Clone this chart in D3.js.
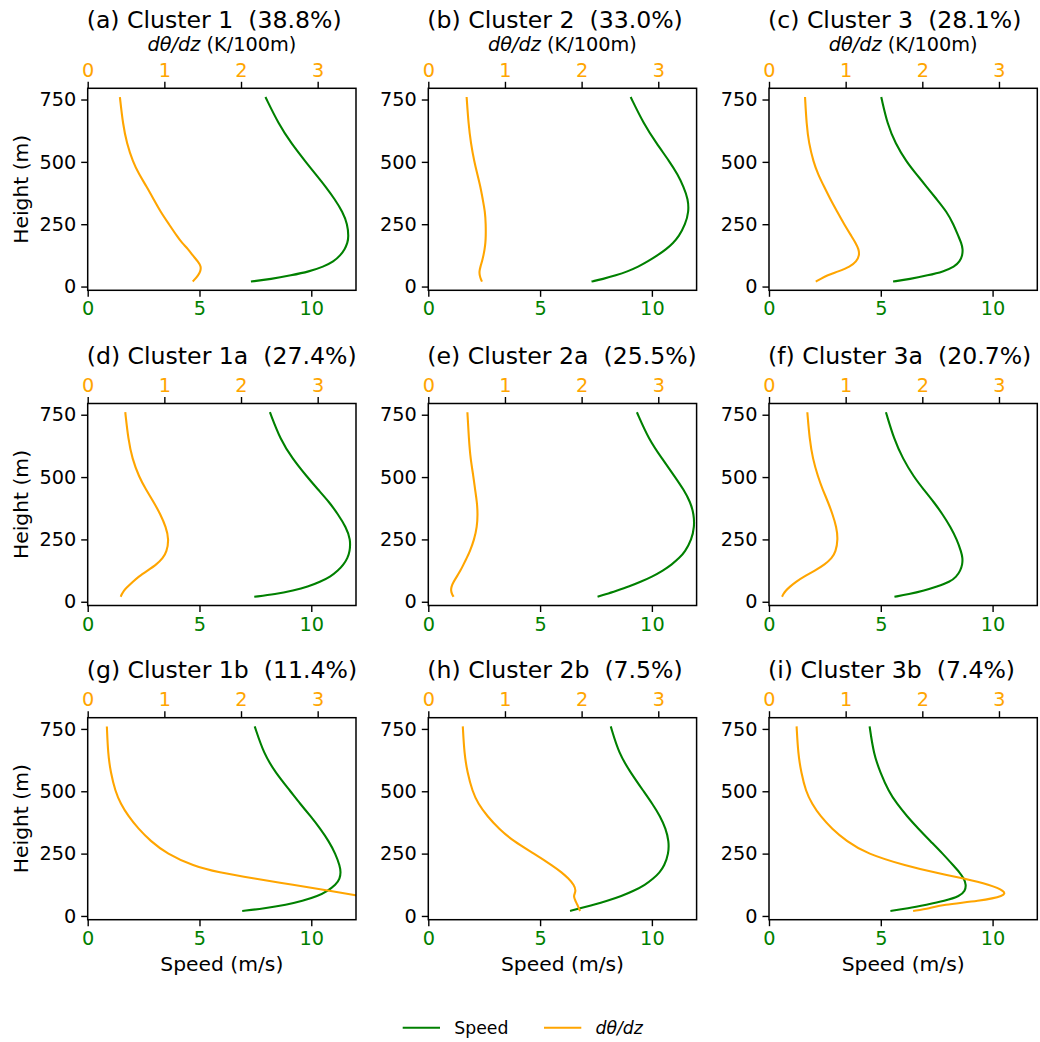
<!DOCTYPE html>
<html><head><meta charset="utf-8">
<script src="https://cdn.jsdelivr.net/npm/d3@7"></script>
<style>
body{margin:0;background:#fff;}
svg{display:block;font-family:"DejaVu Sans",sans-serif;}
text{white-space:pre;}
</style>
</head><body>
<svg id="chart" width="1040" height="1042"></svg>
<script>
// ---------------- data ----------------
const heights = [20,30,45,60,80,100,125,150,175,200,250,300,350,400,450,500,575,650,760];

const titles = ["(a) Cluster 1  (38.8%)","(b) Cluster 2  (33.0%)","(c) Cluster 3  (28.1%)",
                "(d) Cluster 1a  (27.4%)","(e) Cluster 2a  (25.5%)","(f) Cluster 3a  (20.7%)",
                "(g) Cluster 1b  (11.4%)","(h) Cluster 2b  (7.5%)","(i) Cluster 3b  (7.4%)"];

const speedA = [7.3,8.2,9.1,9.9,10.55,11.0,11.3,11.5,11.62,11.67,11.62,11.4,11.05,10.65,10.2,9.75,9.1,8.55,7.95];
const thetaA = [1.37,1.40,1.44,1.47,1.48,1.44,1.37,1.31,1.23,1.17,1.06,0.95,0.86,0.77,0.67,0.59,0.51,0.46,0.42];
const speedB = [7.3,7.8,8.4,8.9,9.4,9.8,10.25,10.65,10.95,11.2,11.5,11.65,11.62,11.42,11.15,10.8,10.2,9.65,9.05];
const thetaB = [0.70,0.685,0.67,0.665,0.68,0.70,0.72,0.735,0.745,0.75,0.75,0.74,0.71,0.68,0.64,0.60,0.555,0.525,0.50];
const speedC = [5.55,6.3,7.1,7.8,8.3,8.53,8.65,8.67,8.6,8.48,8.25,7.95,7.5,7.05,6.6,6.15,5.65,5.3,5.02];
const thetaC = [0.61,0.67,0.76,0.90,1.06,1.14,1.18,1.17,1.13,1.08,0.98,0.89,0.80,0.72,0.64,0.58,0.52,0.49,0.47];
const speedD = [7.45,8.4,9.2,9.85,10.4,10.85,11.2,11.45,11.62,11.72,11.76,11.55,11.2,10.8,10.3,9.82,9.15,8.62,8.15];
const thetaD = [0.43,0.445,0.47,0.52,0.59,0.66,0.78,0.90,0.98,1.03,1.06,1.02,0.95,0.86,0.76,0.67,0.58,0.53,0.49];
const speedE = [7.57,7.95,8.45,8.95,9.5,10.0,10.5,10.9,11.22,11.48,11.78,11.9,11.88,11.72,11.42,11.04,10.45,9.87,9.33];
const thetaE = [0.33,0.31,0.295,0.30,0.33,0.37,0.42,0.46,0.50,0.54,0.60,0.635,0.645,0.635,0.61,0.59,0.55,0.53,0.51];
const speedF = [5.61,6.25,6.95,7.5,8.1,8.38,8.56,8.65,8.66,8.6,8.4,8.12,7.77,7.37,6.92,6.48,5.98,5.6,5.23];
const thetaF = [0.17,0.185,0.22,0.27,0.35,0.45,0.60,0.73,0.82,0.87,0.90,0.88,0.83,0.77,0.70,0.64,0.57,0.53,0.50];
const speedG = [6.91,7.9,8.9,9.6,10.3,10.72,11.1,11.28,11.32,11.28,11.08,10.78,10.4,9.97,9.5,9.07,8.4,7.88,7.47];
const thetaG = [4.3,4.25,4.15,3.95,3.55,3.17,2.68,2.17,1.70,1.38,1.03,0.82,0.66,0.53,0.43,0.36,0.30,0.265,0.25];
const speedH = [6.34,6.75,7.4,7.99,8.65,9.18,9.7,10.07,10.35,10.55,10.75,10.76,10.62,10.37,10.02,9.63,9.05,8.53,8.16];
const thetaH = [1.98,1.965,1.945,1.92,1.89,1.93,1.9,1.83,1.74,1.63,1.38,1.11,0.92,0.77,0.65,0.575,0.51,0.47,0.45];
const speedI = [5.43,6.2,7.05,7.85,8.55,8.77,8.82,8.72,8.52,8.27,7.77,7.22,6.68,6.17,5.72,5.35,4.98,4.68,4.50];
const thetaI = [1.88,2.1,2.25,2.75,3.08,3.08,2.88,2.55,2.15,1.80,1.27,1.01,0.82,0.67,0.56,0.48,0.42,0.38,0.36];

const speedTicks = [0,5,10];
const thetaTicks = [0,1,2,3];
const heightTicks = [0,250,500,750];

const speeds = [speedA,speedB,speedC,speedD,speedE,speedF,speedG,speedH,speedI];
const thetas = [thetaA,thetaB,thetaC,thetaD,thetaE,thetaF,thetaG,thetaH,thetaI];

// ---------------- layout ----------------
const colLeft = [87.7, 428.3, 769.0];
const rowTop = [88.3, 403.5, 717.7];
const W = 268.3, H = 202;
const GREEN = "#008000", ORANGE = "#FFA500";
const TICKFS = 19.3, LABFS = 20.3, TITLEFS = 23.6;
const fmt = d3.format("d");

const svg = d3.select("#chart");
svg.append("rect").attr("width",1040).attr("height",1042).attr("fill","#fff");
const defs = svg.append("defs");

titles.forEach((t, i) => {
  const r = Math.floor(i/3), c = i%3;
  const x0 = colLeft[c], y0 = rowTop[r];
  const g = svg.append("g").attr("transform", `translate(${x0},${y0})`);

  const x = d3.scaleLinear().domain([0,12]).range([0,W]);
  const xt = d3.scaleLinear().domain([0,3.5]).range([0,W]);
  const y = d3.scaleLinear().domain([-15,795]).range([H,0]);

  defs.append("clipPath").attr("id","clip"+i)
    .append("rect").attr("width",W).attr("height",H);

  const sp = speeds[i], th = thetas[i];
  const lineS = d3.line().x((d,k)=>x(sp[k])).y(d=>y(d)).curve(d3.curveBasis);
  const lineT = d3.line().x((d,k)=>xt(th[k])).y(d=>y(d)).curve(d3.curveBasis);

  const plot = g.append("g").attr("clip-path",`url(#clip${i})`);
  plot.append("path").attr("d", lineS(heights)).attr("fill","none")
      .attr("stroke",GREEN).attr("stroke-width",2.1);
  plot.append("path").attr("d", lineT(heights)).attr("fill","none")
      .attr("stroke",ORANGE).attr("stroke-width",2.1);

  // axes
  const styleAxis = (sel, color) => {
    sel.select(".domain").remove();
    sel.selectAll(".tick line").attr("stroke","#000").attr("stroke-width",1.4);
    sel.selectAll(".tick text").attr("fill",color).attr("font-size",TICKFS)
       .attr("font-family","DejaVu Sans");
  };
  const ay = g.append("g").call(d3.axisLeft(y).tickValues(heightTicks).tickFormat(fmt).tickSize(6.5).tickPadding(5));
  styleAxis(ay, "#000");
  const ab = g.append("g").attr("transform",`translate(0,${H})`)
     .call(d3.axisBottom(x).tickValues(speedTicks).tickFormat(fmt).tickSize(6.5).tickPadding(5));
  styleAxis(ab, GREEN);
  const at = g.append("g").call(d3.axisTop(xt).tickValues(thetaTicks).tickFormat(fmt).tickSize(6.5).tickPadding(5));
  styleAxis(at, ORANGE);

  // frame
  g.append("rect").attr("width",W).attr("height",H).attr("fill","none")
    .attr("stroke","#000").attr("stroke-width",1.5);

  // title (left-aligned to the axes)
  g.append("text").attr("x",-1).attr("y", r===0 ? -60.5 : -40)
    .attr("text-anchor","start").attr("font-size",TITLEFS).attr("fill","#000")
    .attr("xml:space","preserve").text(t);

  if (r===0) {
    const tl = g.append("text").attr("x",W/2).attr("y",-37.5)
      .attr("text-anchor","middle").attr("font-size",LABFS-1).attr("fill","#000");
    tl.append("tspan").attr("font-style","italic").text("dθ/dz");
    tl.append("tspan").text(" (K/100m)");
  }
  if (c===0) {
    g.append("text").attr("transform",`translate(-60,${H/2}) rotate(-90)`)
      .attr("text-anchor","middle").attr("font-size",LABFS).attr("fill","#000").text("Height (m)");
  }
  if (r===2) {
    g.append("text").attr("x",W/2).attr("y",H+51.5)
      .attr("text-anchor","middle").attr("font-size",LABFS).attr("fill","#000").text("Speed (m/s)");
  }
});

// legend
const leg = svg.append("g");
const legendItems = [{label:"Speed", color:GREEN, x:402.7, italic:false},
                     {label:"dθ/dz", color:ORANGE, x:544, italic:true}];
legendItems.forEach(it => {
  leg.append("line").attr("x1",it.x).attr("x2",it.x+37.3).attr("y1",1027.7).attr("y2",1027.7)
     .attr("stroke",it.color).attr("stroke-width",2.1);
  leg.append("text").attr("x",it.x+51.5).attr("y",1034).attr("font-size",17.3)
     .attr("font-style", it.italic ? "italic" : "normal").attr("fill","#000").text(it.label);
});
</script>
</body></html>
